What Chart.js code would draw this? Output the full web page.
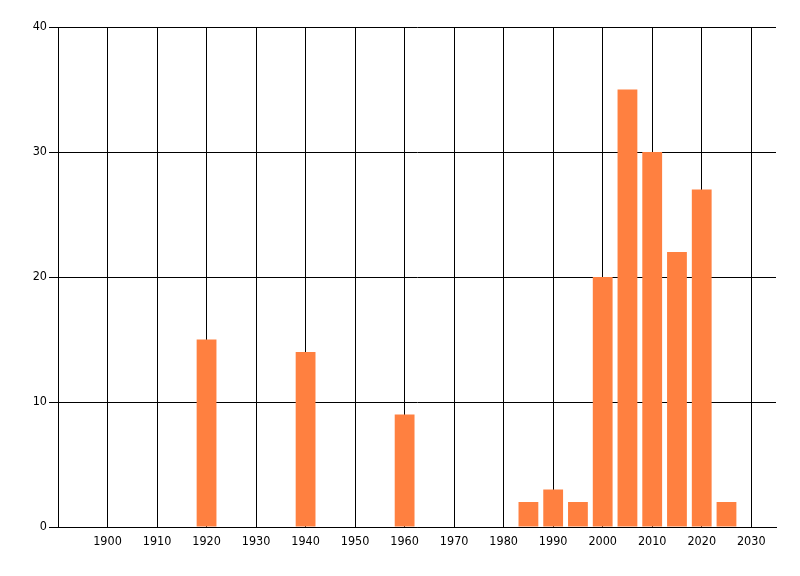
<!DOCTYPE html>
<html>
<head>
<meta charset="utf-8">
<script src="https://cdn.jsdelivr.net/npm/chart.js@4"></script>
<style>
    body { margin: 0; background: #fff; }
    #wrap { width: 800px; height: 576px; position: relative; }
</style>
</head>
<body>
<div id="wrap"><canvas id="chart"></canvas></div>
<script>
//bar positions (years) and heights
const years = [1920, 1940, 1960, 1985, 1990, 1995, 2000, 2005, 2010, 2015, 2020, 2025];
const counts = [15, 14, 9, 2, 3, 2, 20, 35, 30, 22, 27, 2];

//tick labels on both axes
const xTicks = [1900, 1910, 1920, 1930, 1940, 1950, 1960, 1970, 1980, 1990, 2000, 2010, 2020, 2030];
const yTicks = [0, 10, 20, 30, 40];

const tickFont = { family: '"Liberation Sans Narrow", "DejaVu Sans Condensed", sans-serif', size: 12.5 };

const points = years.map((year, i) => ({ x: year, y: counts[i] }));

new Chart(document.getElementById('chart'), {
    type: 'bar',
    data: {
        datasets: [
            {
                data: points,
                backgroundColor: '#ff8040',
                borderWidth: 0,
                barPercentage: 0.8,
                categoryPercentage: 1.0,
            },
        ],
    },
    options: {
        responsive: true,
        maintainAspectRatio: false,
        animation: false,
        layout: {
            padding: { top: 27, right: 24, left: 0, bottom: 0 },
        },
        plugins: {
            legend: { display: false },
            tooltip: { enabled: false },
        },
        scales: {
            x: {
                type: 'linear',
                min: 1890,
                max: 2035,
                offset: false,
                afterBuildTicks: (scale) => {
                    scale.ticks = xTicks.map((v) => ({ value: v }));
                },
                afterFit: (scale) => {
                    scale.height = 49;
                },
                ticks: {
                    color: '#000',
                    font: tickFont,
                    padding: 7,
                    maxRotation: 0,
                    autoSkip: false,
                    callback: (v) => String(v),
                },
                grid: {
                    offset: false,
                    color: '#000',
                    lineWidth: 1,
                    drawTicks: false,
                },
                border: { display: true, color: '#000', width: 1 },
            },
            y: {
                min: 0,
                max: 40,
                afterBuildTicks: (scale) => {
                    scale.ticks = yTicks.map((v) => ({ value: v }));
                },
                afterFit: (scale) => {
                    scale.width = 58;
                },
                ticks: {
                    color: '#000',
                    font: tickFont,
                    padding: 2,
                },
                grid: {
                    color: '#000',
                    lineWidth: 1,
                    drawTicks: true,
                    tickLength: 9,
                },
                border: { display: true, color: '#000', width: 1 },
            },
        },
    },
});
</script>
</body>
</html>
